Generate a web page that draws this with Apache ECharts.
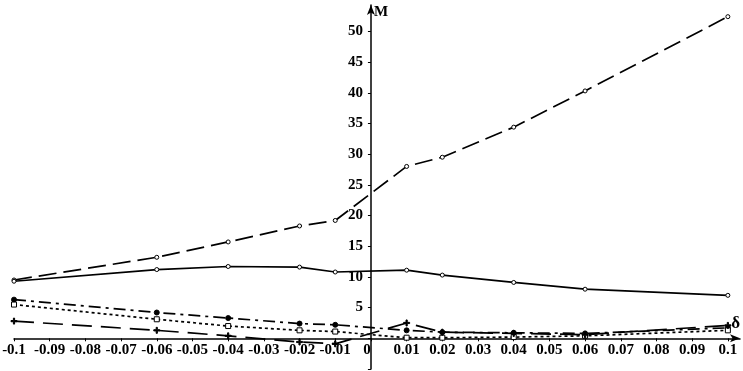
<!DOCTYPE html>
<html>
<head>
<meta charset="utf-8">
<script src="https://cdn.jsdelivr.net/npm/echarts@6/dist/echarts.min.js"></script>
<style>
  html, body { margin: 0; padding: 0; background: #fff; }
  #main { width: 743px; height: 371px; }
</style>
</head>
<body>
<div id="main"></div>
<script>
// x positions of the measured points (delta)
const deltas = [-0.1, -0.06, -0.04, -0.02, -0.01, 0.01, 0.02, 0.04, 0.06, 0.1];

// M values, one array per curve
const longDashTop = [9.5, 13.2, 15.7, 18.3, 19.2, 28.0, 29.5, 34.4, 40.3, 52.4];
const solidLine = [9.3, 11.2, 11.7, 11.6, 10.8, 11.1, 10.3, 9.1, 8.0, 7.0];
const dashDotLine = [6.3, 4.2, 3.3, 2.4, 2.2, 1.3, 1.0, 0.9, 0.8, 1.7];
const dottedLine = [5.5, 3.1, 2.0, 1.3, 1.1, 0.1, 0.1, 0.2, 0.4, 1.3];
const longDashLow = [2.8, 1.3, 0.4, -0.6, -0.9, 2.5, 1.0, 0.8, 0.6, 2.1];

const xMin = -0.1, xMax = 0.1034;
const yMin = -5, yMax = 54.3;

const plusPath = "path://M4,0H6V4H10V6H6V10H4V6H0V4H4Z";

function pairs(ys) {
  return deltas.map((x, i) => [x, ys[i]]);
}

var myChart = echarts.init(document.getElementById("main"));

// grid box, axes are moved to cross at (0, 0) with offsets
const W = 743, H = 371;
const gl = 14, gr = 3, gt = 5, gb = 2;
const zeroX = gl + ((0 - xMin) / (xMax - xMin)) * (W - gl - gr);
const zeroY = gt + ((yMax - 0) / (yMax - yMin)) * (H - gt - gb);

const labelFont = {
  color: "#000",
  fontFamily: "Liberation Serif",
  fontWeight: "bold",
  fontSize: 15,
};

function lineSeries(ys, dash, symbol, size, filled) {
  return {
    type: "line",
    data: pairs(ys),
    symbol: symbol,
    symbolSize: size,
    showSymbol: true,
    lineStyle: { color: "#000", width: 1.7, type: dash },
    itemStyle: {
      color: filled ? "#000" : "#fff",
      borderColor: "#000",
      borderWidth: 1,
    },
    z: 3,
  };
}

var option = {
  animation: false,
  backgroundColor: "#fff",
  grid: {
    left: gl,
    right: gr,
    top: gt,
    bottom: gb,
    containLabel: false,
    outerBoundsMode: "none",
  },
  xAxis: {
    type: "value",
    min: xMin,
    max: xMax,
    interval: 0.01,
    position: "bottom",
    offset: -(H - gb - zeroY),
    name: "δ",
    nameLocation: "end",
    nameGap: 0,
    nameTextStyle: Object.assign({}, labelFont, {
      fontSize: 17,
      align: "right",
      verticalAlign: "bottom",
      padding: [0, 0, 6, 0],
    }),
    axisLine: {
      onZero: false,
      symbol: ["none", "arrow"],
      symbolSize: [6, 10],
      lineStyle: { color: "#000", width: 1.5 },
    },
    axisTick: { show: true, length: 3, lineStyle: { color: "#000" } },
    axisLabel: Object.assign({}, labelFont, {
      margin: 4,
      showMaxLabel: false,
      formatter: function (v) {
        const r = Math.round(v * 100) / 100;
        if (r === 0) return "{z|0}";
        if (r > 0.1) return "";
        return String(r);
      },
      rich: { z: Object.assign({}, labelFont, { padding: [0, 8, 0, 0] }) },
    }),
    splitLine: { show: false },
  },
  yAxis: {
    type: "value",
    min: yMin,
    max: yMax,
    interval: 5,
    position: "left",
    offset: -(zeroX - gl),
    name: "M",
    nameLocation: "end",
    nameGap: 0,
    nameTextStyle: Object.assign({}, labelFont, {
      fontSize: 15,
      align: "left",
      verticalAlign: "top",
      padding: [0, 0, 0, 3],
    }),
    axisLine: {
      onZero: false,
      symbol: ["none", "arrow"],
      symbolSize: [6, 10],
      lineStyle: { color: "#000", width: 1.5 },
    },
    axisTick: { show: true, length: 3, lineStyle: { color: "#000" } },
    axisLabel: Object.assign({}, labelFont, {
      margin: 8,
      showMaxLabel: false,
      formatter: function (v) {
        return v > 0 && v <= 50 ? String(v) : "";
      },
    }),
    splitLine: { show: false },
  },
  series: [
    lineSeries(longDashTop, [18, 7], "circle", 4, false),
    lineSeries(solidLine, "solid", "circle", 4, false),
    lineSeries(dashDotLine, [12, 5, 3, 5], "circle", 5, true),
    lineSeries(dottedLine, [3, 3], "rect", 5, false),
    lineSeries(longDashLow, [20, 9], plusPath, 6, true),
  ],
};

myChart.setOption(option);
</script>
</body>
</html>
